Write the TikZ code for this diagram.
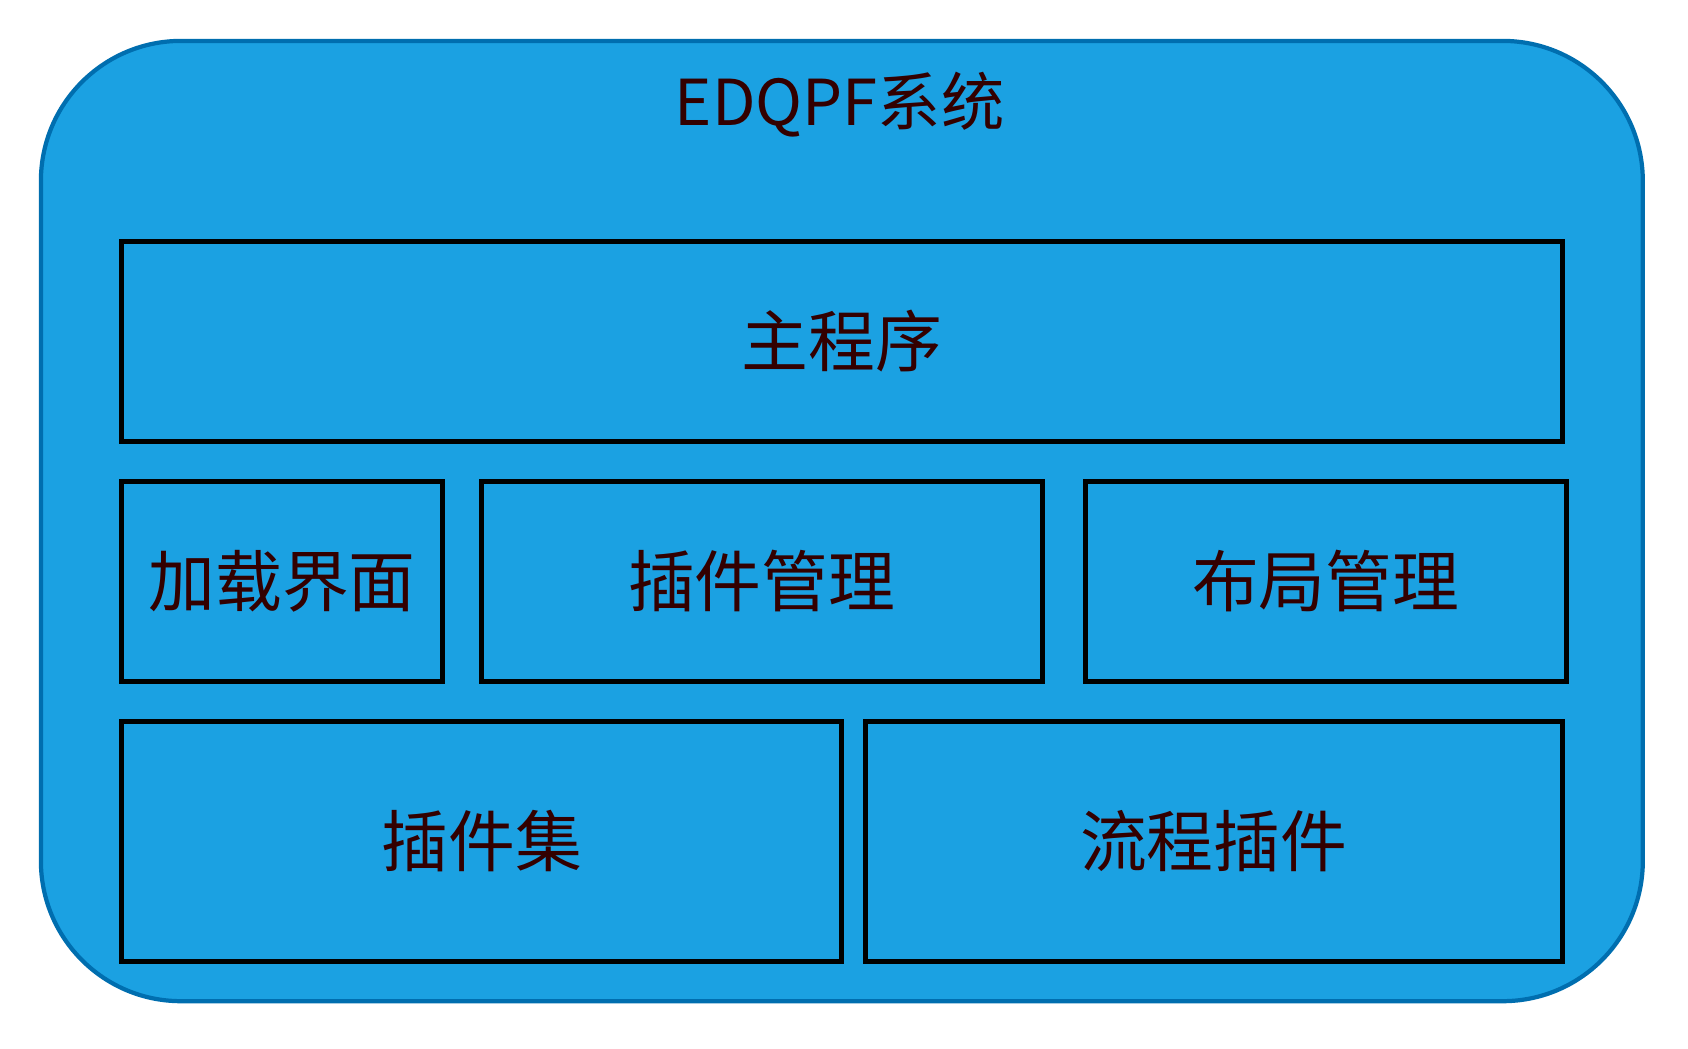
\documentclass[tikz,border=0pt]{standalone}
\usepackage{fontspec}
\setmainfont{Noto Sans CJK SC}
\usetikzlibrary{positioning}
\definecolor{sysblue}{HTML}{1BA1E2}
\definecolor{sysedge}{HTML}{006EAF}
\definecolor{labeltext}{HTML}{330000}
\tikzset{%
  % Specifications for style of nodes:
         system/.style = {rectangle, rounded corners=1.4cm, draw=sysedge,
                          line width=1.2pt, fill=sysblue},
         module/.style = {rectangle, draw=black, line width=1.4pt,
                          inner sep=0pt, text=labeltext, font=\fontsize{19}{22}\selectfont},
}
\begin{document}
\begin{tikzpicture}[x=0.010765cm, y=-0.010765cm]
  \useasboundingbox (0,0) rectangle (1568,973.5);
  % Specification of nodes (position, etc.)
  \node (system) [system, minimum width=1488*0.010765cm, minimum height=892*0.010765cm]
        at (782,484) {};
  \node (title) [text=labeltext, font=\fontsize{18}{22}\selectfont] at (780,97) {EDQPF系统};
  \node (main)    [module, minimum width=1338*0.010765cm, minimum height=186*0.010765cm] at (782,317) {主程序};
  \node (loader)  [module, minimum width=298*0.010765cm, minimum height=186*0.010765cm] at (262,540) {加载界面};
  \node (plugmgr) [module, minimum width=521*0.010765cm, minimum height=186*0.010765cm] at (707.5,540) {插件管理};
  \node (layout)  [module, minimum width=447*0.010765cm, minimum height=186*0.010765cm] at (1231.5,540) {布局管理};
  \node (plugset) [module, minimum width=669*0.010765cm, minimum height=223*0.010765cm] at (447.5,781.5) {插件集};
  \node (flow)    [module, minimum width=647*0.010765cm, minimum height=223*0.010765cm] at (1127.5,781.5) {流程插件};
\end{tikzpicture}
\end{document}
